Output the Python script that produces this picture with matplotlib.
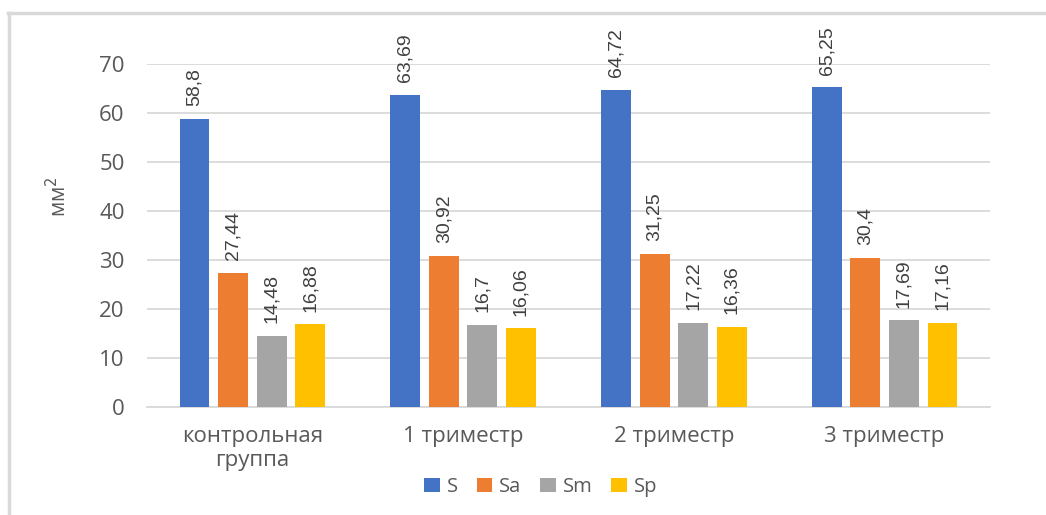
import matplotlib
matplotlib.use("Agg")
import matplotlib.pyplot as plt
import numpy as np

plt.rcParams['font.family'] = ['Open Sans', 'DejaVu Sans']

categories = ['контрольная\nгруппа', '1 триместр', '2 триместр', '3 триместр']
series = ['S', 'Sa', 'Sm', 'Sp']
S = [58.8, 63.69, 64.72, 65.25]
Sa = [27.44, 30.92, 31.25, 30.4]
Sm = [14.48, 16.7, 17.22, 17.69]
Sp = [16.88, 16.06, 16.36, 17.16]
colors = ['#4472C4', '#ED7D31', '#A5A5A5', '#FFC000']

fig = plt.figure(figsize=(10.46, 5.15), dpi=100)
ax = fig.add_axes([0.1405, 0.2097, 0.806, 0.666])

x = np.arange(len(categories))
step = 0.183
width = 0.142
for i, (name, vals) in enumerate(zip(series, [S, Sa, Sm, Sp])):
    pos = x + (i - 1.5) * step
    bars = ax.bar(pos, vals, width, color=colors[i], label=name, zorder=3)
    for b, v in zip(bars, vals):
        ax.text(b.get_x() + b.get_width() / 2, v + 2.6, str(v).replace('.', ','),
                rotation=90, ha='center', va='bottom', fontsize=14,
                color='#404040', family='Liberation Sans', clip_on=False)

ax.set_xlim(-0.5, 3.5)
ax.set_ylim(0, 70)
ax.set_yticks(range(0, 71, 10))
ax.yaxis.grid(True, color='#d9d9d9', linewidth=1.3, zorder=0)
ax.set_axisbelow(True)
for s in ['top', 'right', 'left']:
    ax.spines[s].set_visible(False)
ax.spines['bottom'].set_color('#d9d9d9')
ax.spines['bottom'].set_linewidth(1.3)
ax.tick_params(length=0, colors='#595959')
ax.tick_params(axis='y', pad=16, labelsize=16)
ax.tick_params(axis='x', pad=14, labelsize=16)
ax.set_xticks(x)
ax.set_xticklabels(categories, linespacing=1.15)
ax.set_ylabel('мм$^2$', color='#595959', fontsize=15)
ax.yaxis.set_label_coords(-0.09, 0.612)

ax.legend(loc='center', ncol=4, frameon=False, fontsize=14.5,
          handlelength=0.75, handleheight=0.75, handletextpad=0.35,
          columnspacing=0.95, labelcolor='#595959')
leg = ax.get_legend()
leg.set_bbox_to_anchor((0.517, 1 - 487 / 515), transform=fig.transFigure)

# outer chart frame (left and top visible)
fig.add_artist(plt.Line2D([9 / 1046, 9 / 1046], [0, 1 - 13 / 515], color='#d9d9d9', linewidth=2.5))
fig.add_artist(plt.Line2D([8 / 1046, 1], [1 - 13 / 515, 1 - 13 / 515], color='#d9d9d9', linewidth=2.5))

fig.savefig('out.png', dpi=100)
